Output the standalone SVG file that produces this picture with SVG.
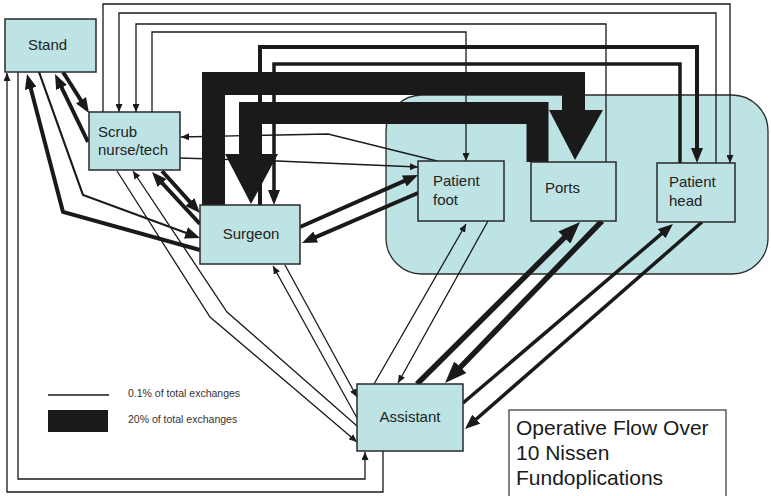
<svg xmlns="http://www.w3.org/2000/svg" width="771" height="496" viewBox="0 0 771 496">
<style>
.bg{fill:#ffffff}
.node rect{fill:#bee3e4;stroke:#2a2a2a;stroke-width:1.5}
.zone{fill:#bee3e4;stroke:#2a2a2a;stroke-width:1.3}
.lbl{font-family:"Liberation Sans",Arial,sans-serif;font-size:15px;fill:#222}
.leg{font-family:"Liberation Sans",Arial,sans-serif;font-size:10.5px;fill:#333}
.ttl{font-family:"Liberation Sans",Arial,sans-serif;font-size:21px;fill:#1a1a1a}
.c path{fill:none;stroke:#1a1a1a;stroke-linejoin:miter}
.t{stroke-width:1.3;marker-end:url(#at)}
.m{stroke-width:4;marker-end:url(#am)}
.k{stroke-width:5.5;marker-end:url(#ak)}
.band{stroke-linejoin:round}
.head{fill:#1a1a1a;stroke:none}
</style>
<defs>
<marker id="at" viewBox="0 0 8 7" refX="8" refY="3.5" markerWidth="8" markerHeight="7" markerUnits="userSpaceOnUse" orient="auto"><path d="M0,0 L8,3.5 L0,7z" fill="#1a1a1a"/></marker>
<marker id="am" viewBox="0 0 15 12" refX="7" refY="6" markerWidth="15" markerHeight="12" markerUnits="userSpaceOnUse" orient="auto"><path d="M0,0 L15,6 L0,12z" fill="#1a1a1a"/></marker>
<marker id="ak" viewBox="0 0 22 17" refX="11" refY="8.5" markerWidth="22" markerHeight="17" markerUnits="userSpaceOnUse" orient="auto"><path d="M0,0 L22,8.5 L0,17z" fill="#1a1a1a"/></marker>
</defs>
<rect class="bg" x="0" y="0" width="771" height="496"/>
<g id="or-zone"><rect class="zone" x="386" y="95" width="382" height="179" rx="36" ry="36"/></g>
<g id="connectors" class="c">
<path class="band" d="M213.5,205 V83.5 H573.5 V112" stroke-width="23"/>
<polygon class="head" points="549,110 603,110 575,160"/>
<path class="band" d="M537.5,162 V113 H250 V156" stroke-width="22"/>
<polygon class="head" points="225,154 278,154 251,204"/>
<path class="t" d="M103,112 V4 H730 V163"/>
<path class="t" d="M716,163 V13 H119 V112"/>
<path class="t" d="M606,162 V24 H136 V112"/>
<path class="t" d="M152,112 V32 H466 V161"/>
<path class="m" d="M260,205 V47 H697 V155"/>
<path class="m" style="stroke-width:3.5" d="M680,163 V64 H274 V197"/>
<path class="t" d="M437,161 L328,134 L181,137"/>
<path class="t" d="M180,158 L277,161 L418,167"/>
<path class="m" d="M63,72 L84.7,106.2"/>
<path class="m" d="M88,142 L58.5,81.2"/>
<path class="m" d="M200,250 L63,212 L29,81.7"/>
<path class="m" style="stroke-width:2.2" d="M39,72 L83,195 L192.5,235.2"/>
<path class="m" d="M162,171 L194.6,207.1"/>
<path class="m" d="M200,224 L157.4,177.9"/>
<path class="m" d="M300,227 L410.7,178.2"/>
<path class="m" d="M418,193 L309.3,239.8"/>
<path class="t" d="M117,171 L210,317 L357,442"/>
<path class="t" d="M357,426 L227,312 L133,171"/>
<path class="t" d="M285,265 L357,397"/>
<path class="t" d="M357,418 L273,266"/>
<path class="t" d="M383,451 V492 H7 V73"/>
<path class="t" d="M18,72 V479 H365 V452"/>
<path class="t" d="M374,384 L466,224"/>
<path class="t" d="M488,221 L398,383"/>
<path class="k" d="M417,384 L572.2,229.8"/>
<path class="k" d="M602,221 L452.7,375.1"/>
<path class="m" style="stroke-width:3.5" d="M463,403 L666.9,229.2"/>
<path class="m" style="stroke-width:3.5" d="M702,222 L471,423.7"/>
</g>
<g id="stand" class="node"><rect x="5" y="19" width="91" height="53"/><text class="lbl" x="47.5" y="50" text-anchor="middle">Stand</text></g>
<g id="scrub" class="node"><rect x="89" y="112" width="91" height="58"/><text class="lbl" x="98" y="137">Scrub</text><text class="lbl" x="98" y="155">nurse/tech</text></g>
<g id="surgeon" class="node"><rect x="200" y="205" width="100" height="59"/><text class="lbl" x="251" y="239" text-anchor="middle">Surgeon</text></g>
<g id="patient-foot" class="node"><rect x="418" y="161" width="86" height="60"/><text class="lbl" x="433" y="186">Patient</text><text class="lbl" x="433" y="205">foot</text></g>
<g id="ports" class="node"><rect x="531" y="162" width="85" height="59"/><text class="lbl" x="545" y="193">Ports</text></g>
<g id="patient-head" class="node"><rect x="657" y="163" width="78" height="59"/><text class="lbl" x="669" y="187">Patient</text><text class="lbl" x="669" y="206">head</text></g>
<g id="assistant" class="node"><rect x="357" y="384" width="106" height="67"/><text class="lbl" x="410" y="422" text-anchor="middle">Assistant</text></g>
<g id="legend">
<line x1="48" y1="395" x2="109" y2="395" stroke="#1a1a1a" stroke-width="1.3"/>
<rect x="48" y="410" width="60" height="22" fill="#1a1a1a"/>
<text class="leg" x="128" y="397">0.1% of total exchanges</text>
<text class="leg" x="128" y="423">20% of total exchanges</text>
</g>
<g id="title">
<rect x="509" y="410" width="217" height="95" fill="#ffffff" stroke="#333" stroke-width="1.2"/>
<text class="ttl" x="516" y="435">Operative Flow Over</text>
<text class="ttl" x="516" y="460">10 Nissen</text>
<text class="ttl" x="516" y="485">Fundoplications</text>
</g>
</svg>
